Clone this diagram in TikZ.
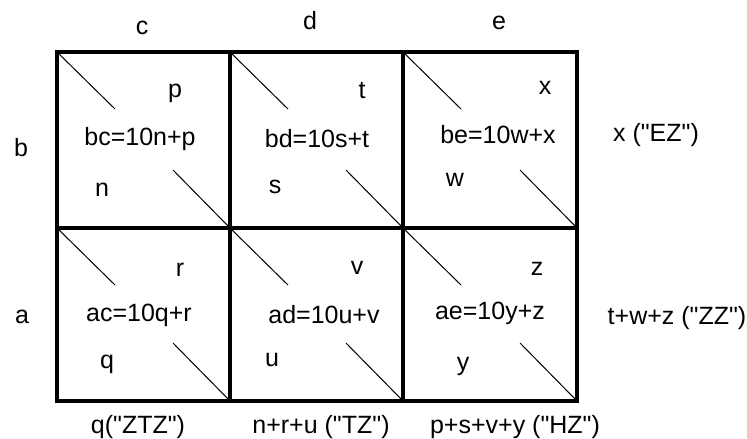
\documentclass[tikz,border=0pt]{standalone}
\usepackage{fontspec}
\newfontfamily\arialf{Liberation Sans}
\usetikzlibrary{calc}
\begin{document}
\begin{tikzpicture}[x=1pt,y=-1pt,
  lbl/.style={inner sep=0pt, font=\arialf\fontsize{25}{30}\selectfont},
  gridline/.style={line width=4pt, line join=miter, line cap=rect},
  diag/.style={line width=1pt}]
\useasboundingbox (0,0) rectangle (747,439);
% grid corners
\foreach \i/\x in {0/57,1/230,2/403,3/577}{
  \foreach \j/\y in {0/52,1/228,2/401}{
    \coordinate (g\i\j) at (\x,\y);
  }
}
% diagonals
\foreach \i/\ii in {0/1,1/2,2/3}{
  \foreach \j/\jj in {0/1,1/2}{
    \draw[diag] (g\i\j) -- ($(g\i\j)+(58,57)$);
    \draw[diag] (g\ii\jj) -- ($(g\ii\jj)+(-57,-58)$);
  }
}
% grid
\draw[gridline] (g00) rectangle (g32);
\draw[gridline] (g10) -- (g12);
\draw[gridline] (g20) -- (g22);
\draw[gridline] (g01) -- (g31);
% column / row headers
\node[lbl] (hc) at (142,28) {c};
\node[lbl] (hd) at (310,21) {d};
\node[lbl] (he) at (499,23) {e};
\node[lbl] (hb) at (21,148) {b};
\node[lbl] (ha) at (22,317) {a};
% right labels
\node[lbl] (rEZ) at (656,135) {x ("EZ")};
\node[lbl] (rZZ) at (677,318) {t+w+z ("ZZ")};
% bottom labels
\node[lbl] (bZTZ) at (138,427) {q("ZTZ")};
\node[lbl] (bTZ) at (321,427) {n+r+u ("TZ")};
\node[lbl] (bHZ) at (515,427) {p+s+v+y ("HZ")};
% cell (1,1)
\node[lbl] (p) at (175,93) {p};
\node[lbl] (fbc) at (140,139) {bc=10n+p};
\node[lbl] (n) at (102,190) {n};
% cell (1,2)
\node[lbl] (t) at (362,91) {t};
\node[lbl] (fbd) at (317,139) {bd=10s+t};
\node[lbl] (s) at (275,187) {s};
% cell (1,3)
\node[lbl] (x) at (545,88) {x};
\node[lbl] (fbe) at (498,135) {be=10w+x};
\node[lbl] (w) at (455,180) {w};
% cell (2,1)
\node[lbl] (r) at (180,270) {r};
\node[lbl] (fac) at (139,315) {ac=10q+r};
\node[lbl] (q) at (107,364) {q};
% cell (2,2)
\node[lbl] (v) at (357,268) {v};
\node[lbl] (fad) at (324,315) {ad=10u+v};
\node[lbl] (u) at (272,360) {u};
% cell (2,3)
\node[lbl] (z) at (537,269) {z};
\node[lbl] (fae) at (490,313) {ae=10y+z};
\node[lbl] (y) at (463,366) {y};
\end{tikzpicture}
\end{document}
